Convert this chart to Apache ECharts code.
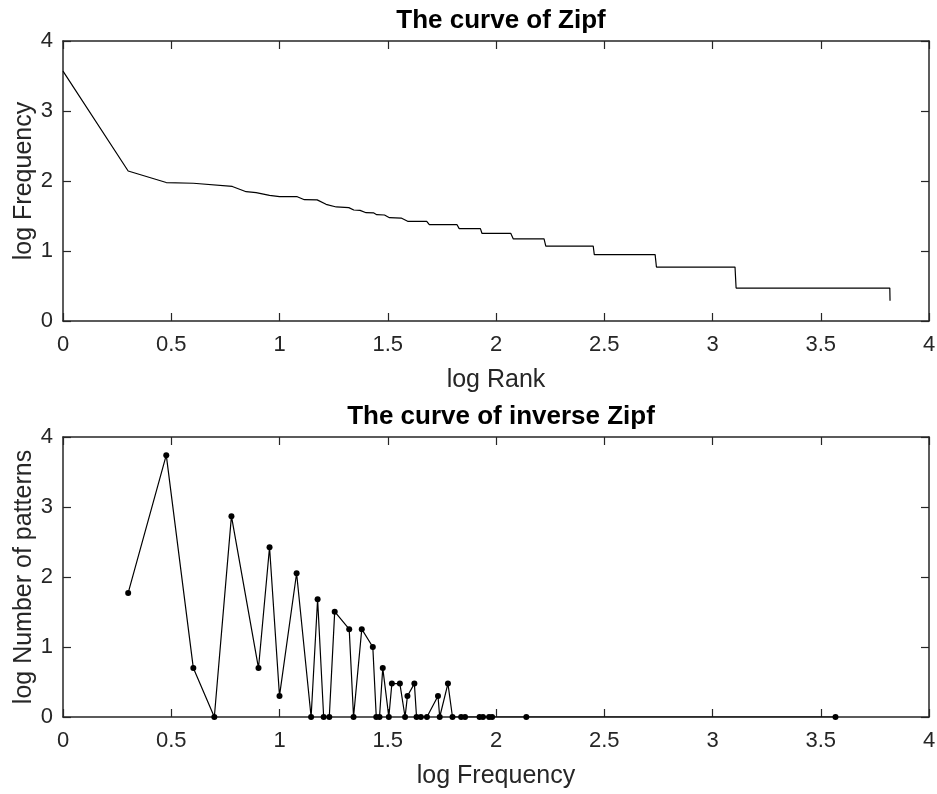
<!DOCTYPE html>
<html>
<head>
<meta charset="utf-8">
<script src="https://cdn.jsdelivr.net/npm/echarts@6/dist/echarts.min.js"></script>
<style>
  html, body { margin: 0; padding: 0; background: #fff; }
  #chart { width: 937px; height: 794px; }
</style>
</head>
<body>
<div id="chart"></div>
<script>
// Zipf curve: log rank vs log frequency (vertices)
const zipfLogRank = [0, 0.301, 0.477, 0.602, 0.782, 0.846, 0.892, 0.954, 1.0, 1.082, 1.115, 1.174,
  1.215, 1.262, 1.32, 1.343, 1.372, 1.4, 1.434, 1.449, 1.485, 1.508, 1.562, 1.592, 1.68, 1.692,
  1.82, 1.83, 1.928, 1.935, 2.068, 2.08, 2.222, 2.23, 2.449, 2.454, 2.735, 2.741, 3.104, 3.109,
  3.819, 3.82];
const zipfLogFreq = [3.57, 2.143, 1.978, 1.968, 1.922, 1.847, 1.833, 1.795, 1.776, 1.776, 1.733, 1.73,
  1.667, 1.629, 1.62, 1.586, 1.58, 1.547, 1.545, 1.519, 1.514, 1.476, 1.471, 1.424, 1.424, 1.376,
  1.376, 1.32, 1.32, 1.253, 1.253, 1.172, 1.172, 1.071, 1.071, 0.949, 0.949, 0.771, 0.771, 0.471,
  0.471, 0.29];

// inverse Zipf: log frequency vs log number of patterns
const invLogFreq = [0.301, 0.477, 0.602, 0.699, 0.778, 0.903, 0.954, 1.0, 1.079, 1.146, 1.176, 1.204,
  1.23, 1.255, 1.322, 1.342, 1.38, 1.431, 1.447, 1.462, 1.477, 1.505, 1.519, 1.556, 1.58, 1.591,
  1.623, 1.633, 1.653, 1.681, 1.732, 1.74, 1.778, 1.799, 1.839, 1.857, 1.924, 1.94, 1.968, 1.982,
  2.14, 3.568];
const invLogPatterns = [1.772, 3.74, 0.699, 0, 2.869, 0.699, 2.426, 0.301, 2.053, 0, 1.681, 0,
  0, 1.505, 1.255, 0, 1.255, 1.0, 0, 0, 0.699, 0, 0.477, 0.477, 0, 0.301,
  0.477, 0, 0, 0, 0.301, 0, 0.477, 0, 0, 0, 0, 0, 0, 0,
  0, 0];

const titles = ['The curve of Zipf', 'The curve of inverse Zipf'];
const xNames = ['log Rank', 'log Frequency'];
const yNames = ['log Frequency', 'log Number of patterns'];

const axisColor = '#262626';
const font = 'Liberation Sans, Arial, Helvetica, sans-serif';

const chart = echarts.init(document.getElementById('chart'), null, { renderer: 'canvas' });

function pairs(xs, ys) {
  return xs.map((x, i) => [x, ys[i]]);
}

function xAxisFor(grid, withLabels) {
  return {
    type: 'value',
    gridIndex: grid,
    position: withLabels ? 'bottom' : 'top',
    min: 0, max: 4, interval: 0.5,
    name: withLabels ? xNames[grid] : '',
    nameLocation: 'middle',
    nameGap: 47,
    nameMoveOverlap: false,
    nameTextStyle: { fontFamily: font, fontSize: 25, color: axisColor },
    axisLine: { show: true, onZero: false, lineStyle: { color: axisColor, width: 1.5 } },
    axisTick: { show: true, inside: true, length: 8, lineStyle: { color: axisColor, width: 1.2 } },
    axisLabel: { show: withLabels, margin: 13, fontFamily: font, fontSize: 22, color: axisColor },
    splitLine: { show: false }
  };
}

function yAxisFor(grid, withLabels) {
  return {
    type: 'value',
    gridIndex: grid,
    position: withLabels ? 'left' : 'right',
    min: 0, max: 4, interval: 1,
    name: withLabels ? yNames[grid] : '',
    nameLocation: 'middle',
    nameGap: 26,
    nameMoveOverlap: false,
    nameRotate: 90,
    nameTextStyle: { fontFamily: font, fontSize: 25, color: axisColor },
    axisLine: { show: true, onZero: false, lineStyle: { color: axisColor, width: 1.5 } },
    axisTick: { show: true, inside: true, length: 8, lineStyle: { color: axisColor, width: 1.2 } },
    axisLabel: { show: withLabels, margin: 10, fontFamily: font, fontSize: 22, color: axisColor },
    splitLine: { show: false }
  };
}

const option = {
  animation: false,
  backgroundColor: '#fff',
  title: [
    {
      text: titles[0], left: 496, top: 3, textAlign: 'center',
      textStyle: { fontFamily: font, fontSize: 26, fontWeight: 'bold', color: '#000' }
    },
    {
      text: titles[1], left: 496, top: 399, textAlign: 'center',
      textStyle: { fontFamily: font, fontSize: 26, fontWeight: 'bold', color: '#000' }
    }
  ],
  grid: [
    { left: 63, right: 8, top: 41, height: 280, outerBoundsMode: 'none' },
    { left: 63, right: 8, top: 437, height: 280, outerBoundsMode: 'none' }
  ],
  xAxis: [xAxisFor(0, true), xAxisFor(0, false), xAxisFor(1, true), xAxisFor(1, false)],
  yAxis: [yAxisFor(0, true), yAxisFor(0, false), yAxisFor(1, true), yAxisFor(1, false)],
  series: [
    {
      type: 'line',
      xAxisIndex: 0, yAxisIndex: 0,
      data: pairs(zipfLogRank, zipfLogFreq),
      showSymbol: false,
      symbol: 'none',
      lineStyle: { color: '#000', width: 1.2 }
    },
    {
      type: 'line',
      xAxisIndex: 2, yAxisIndex: 2,
      data: pairs(invLogFreq, invLogPatterns),
      symbol: 'circle',
      symbolSize: 6,
      itemStyle: { color: '#000' },
      lineStyle: { color: '#000', width: 1.2 }
    }
  ]
};

chart.setOption(option);
</script>
</body>
</html>
